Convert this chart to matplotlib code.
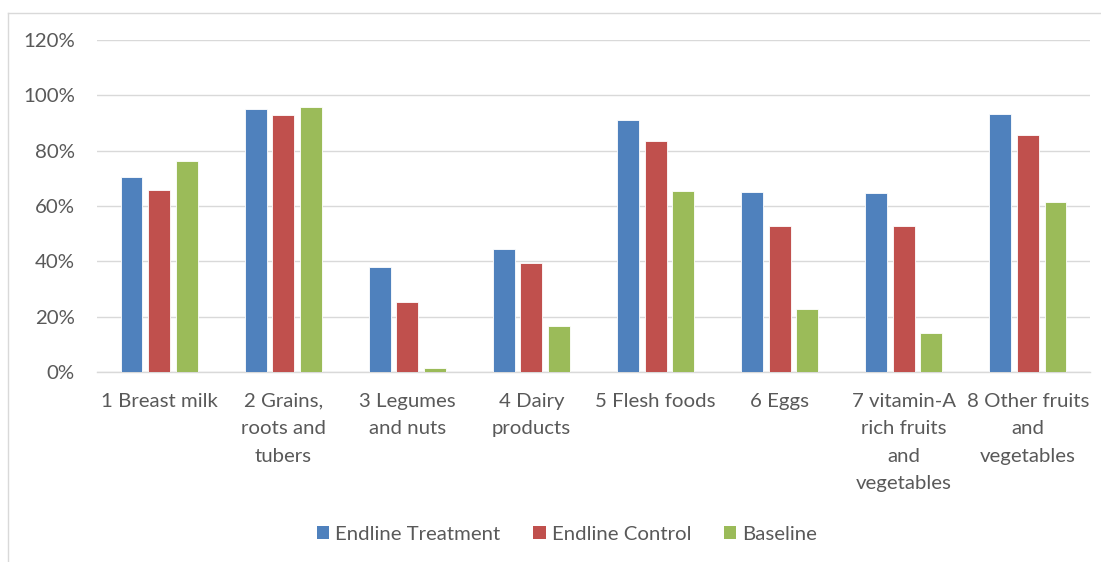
import matplotlib
matplotlib.use("Agg")
import matplotlib.pyplot as plt
import numpy as np
from matplotlib.lines import Line2D
from matplotlib.patches import Patch

categories = ["1 Breast milk", "2 Grains,\nroots and\ntubers", "3 Legumes\nand nuts",
              "4 Dairy\nproducts", "5 Flesh foods", "6 Eggs",
              "7 vitamin-A\nrich fruits\nand\nvegetables", "8 Other fruits\nand\nvegetables"]
endline_treatment = [70.5, 94.9, 38.0, 44.6, 91.1, 65.2, 64.7, 93.4]
endline_control = [65.9, 92.8, 25.4, 39.3, 83.6, 52.9, 52.9, 85.7]
baseline = [76.4, 95.9, 1.6, 16.6, 65.5, 22.8, 14.1, 61.6]
series_names = ["Endline Treatment", "Endline Control", "Baseline"]
colors = ["#4F81BD", "#C0504D", "#9BBB59"]
yticks = [0, 20, 40, 60, 80, 100, 120]

plt.rcParams['font.family'] = ['Lato', 'DejaVu Sans']
text_color = "#595959"
grid_color = "#d9d9d9"
fs = 14.7

fig = plt.figure(figsize=(11.01, 5.62), dpi=100)
ax = fig.add_axes([97/1101, 1-372/562, (1090-97)/1101, (372-40)/562])

x = np.arange(len(categories))
bw = 0.177
off = 0.222
for i, (vals, c) in enumerate(zip([endline_treatment, endline_control, baseline], colors)):
    ax.bar(x + (i-1)*off, vals, width=bw, color=c, edgecolor="white", linewidth=0.6, zorder=3)

ax.set_xlim(-0.5, len(categories)-0.5)
ax.set_ylim(0, 120)
ax.set_yticks(yticks)
ax.set_yticklabels([f"{v}%" for v in yticks])
ax.set_xticks(x)
ax.set_xticklabels(categories, linespacing=1.75, va="top")
ax.tick_params(axis="both", length=0, colors=text_color, labelsize=fs)
ax.tick_params(axis="y", pad=16)
ax.tick_params(axis="x", pad=15)
ax.grid(axis="y", color=grid_color, linewidth=1.0, zorder=0)
for s in ["top", "right", "left"]:
    ax.spines[s].set_visible(False)
ax.spines["bottom"].set_color(grid_color)
ax.spines["bottom"].set_linewidth(1.0)

handles = [Patch(facecolor=c, edgecolor="none") for c in colors]
leg = fig.legend(handles, series_names, loc="center", bbox_to_anchor=(567/1101, 1-534/562),
                 ncol=3, frameon=False, fontsize=fs, handlelength=0.6, handleheight=0.6,
                 handletextpad=0.3, columnspacing=1.6)
for t in leg.get_texts():
    t.set_color(text_color)

# chart border
fig.add_artist(Line2D([8/1101, 1.0], [1-13/562, 1-13/562], color=grid_color, linewidth=1.0))
fig.add_artist(Line2D([8/1101, 8/1101], [0, 1-13/562], color=grid_color, linewidth=1.0))

fig.savefig("out.png", dpi=100)
